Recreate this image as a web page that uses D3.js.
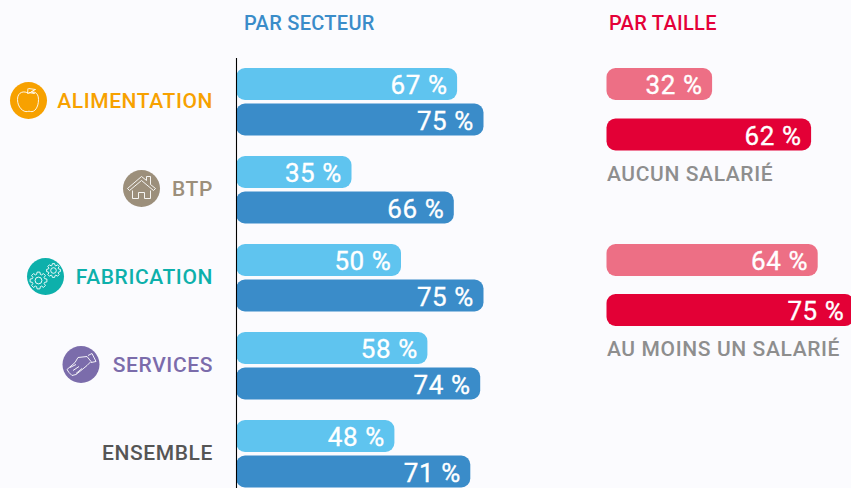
<!DOCTYPE html>
<html lang="fr">
<head>
<meta charset="UTF-8">
<title>Par secteur, par taille</title>
<script src="https://d3js.org/d3.v7.min.js"></script>
<style>
    html, body { margin: 0; padding: 0; background: #fbfbfe; overflow: hidden; }
    text { font-family: Roboto, sans-serif; font-weight: 500; }
    text.val { font-weight: 400; }
</style>
</head>
<body>
<script>
    const sectors = ["ALIMENTATION", "BTP", "FABRICATION", "SERVICES", "ENSEMBLE"];
    const sectorLight = [67, 35, 50, 58, 48];
    const sectorDark = [75, 66, 75, 74, 71];
    const sectorColors = ["#f7a100", "#9c8f7b", "#0db0ab", "#7b6cab", "#555555"];
    const sizes = ["AUCUN SALARIÉ", "AU MOINS UN SALARIÉ"];
    const sizeLight = [32, 64];
    const sizeDark = [62, 75];

    const WIDTH = 851, HEIGHT = 488;
    const svg = d3.select("body").append("svg").attr("width", WIDTH).attr("height", HEIGHT).style("display", "block");
    svg.append("rect").attr("width", WIDTH).attr("height", HEIGHT).attr("fill", "#fbfbfe");

    const BAR_H = 32;
    // 3.3 px per percentage point on both panels
    const xLeft = d3.scaleLinear().domain([0, 75]).range([236, 483.5]);
    const xRight = d3.scaleLinear().domain([0, 75]).range([606.5, 854]);
    const yLight = d3.scalePoint().domain(sectors).range([68, 420]);
    const yDark = d3.scalePoint().domain(sectors).range([103.5, 455.5]);
    const ySizeLight = d3.scalePoint().domain(sizes).range([68, 244]);
    const ySizeDark = d3.scalePoint().domain(sizes).range([118.5, 294]);

    function bars(cats, values, x, y, color) {
        const g = svg.append("g");
        cats.forEach((c, i) => {
            g.append("rect")
                .attr("x", x(0)).attr("y", y(c))
                .attr("width", x(values[i]) - x(0)).attr("height", BAR_H)
                .attr("rx", 9).attr("fill", color);
            g.append("text")
                .attr("class", "val")
                .text(values[i] + " %")
                .attr("x", x(values[i]) - 9.5).attr("y", y(c) + 26)
                .attr("text-anchor", "end")
                .attr("font-size", 26).attr("letter-spacing", 0.6)
                .attr("fill", "white").attr("stroke", "white").attr("stroke-width", 0.35);
        });
    }
    bars(sectors, sectorLight, xLeft, yLight, "#5fc4ef");
    bars(sectors, sectorDark, xLeft, yDark, "#3a8cc9");
    bars(sizes, sizeLight, xRight, ySizeLight, "#ed6f85");
    bars(sizes, sizeDark, xRight, ySizeDark, "#e30036");

    svg.append("line").attr("x1", 236.5).attr("x2", 236.5).attr("y1", 58).attr("y2", HEIGHT)
        .attr("stroke", "#000").attr("stroke-width", 1.1);

    svg.append("text").text("PAR SECTEUR").attr("x", 244).attr("y", 30)
        .attr("font-size", 20).attr("letter-spacing", 0.3).attr("fill", "#3a8cc9");
    svg.append("text").text("PAR TAILLE").attr("x", 609).attr("y", 30)
        .attr("font-size", 20).attr("letter-spacing", 0.3).attr("fill", "#e40038");

    sectors.forEach((s, i) => {
        svg.append("text").text(s)
            .attr("x", 213).attr("y", yLight(s) + 39.6)
            .attr("text-anchor", "end")
            .attr("font-size", 21).attr("letter-spacing", 0.6)
            .attr("fill", sectorColors[i]);
    });
    sizes.forEach(s => {
        svg.append("text").text(s)
            .attr("x", 607).attr("y", ySizeDark(s) + 62)
            .attr("font-size", 21).attr("letter-spacing", 0.62)
            .attr("fill", "#8e8e8e");
    });

    // icons
    function icon(cx, cy, color, paths) {
        const g = svg.append("g").attr("transform", `translate(${cx},${cy})`);
        g.append("circle").attr("r", 18.5).attr("fill", color);
        paths.forEach(d => g.append("path").attr("d", d)
            .attr("fill", "none").attr("stroke", "white").attr("stroke-width", 0.9));
        return g;
    }
    icon(28.5, 100.5, sectorColors[0], [
        "M0,-7 C-4,-10 -11,-9 -11,-1 C-11,7 -5,12 -1,11 C0,10.6 1,10.6 2,11 C6,12 10,7 10,-1 C10,-9 4,-10 0,-7 Z",
        "M-1,-7 L-0.5,-12", "M0,-12 L7,-11 L3,-9 L6,-7 L0,-8"
    ]);
    icon(141.5, 188.5, sectorColors[1], [
        "M-14,0 L0,-12 L5,-8 L5,-12 L9,-12 L9,-4 L14,0 L12,2 L0,-8 L-12,2 Z",
        "M-9,2 L-9,10 L-3,10 L-3,4 L3,4 L3,10 L9,10 L9,2"
    ]);
    const gear = (x, y, r) => {
        let d = "";
        for (let k = 0; k < 8; k++) {
            const a = k * Math.PI / 4;
            const p = (rr, da) => `${(x + rr * Math.cos(a + da)).toFixed(1)},${(y + rr * Math.sin(a + da)).toFixed(1)}`;
            d += (k ? "L" : "M") + p(r * 0.75, -0.3) + "L" + p(r, -0.16) + "L" + p(r, 0.16) + "L" + p(r * 0.75, 0.3);
        }
        d += `Z M${x + r * 0.4},${y} A${r * 0.4},${r * 0.4} 0 1 0 ${x - r * 0.4},${y} A${r * 0.4},${r * 0.4} 0 1 0 ${x + r * 0.4},${y}`;
        return d;
    };
    icon(45.5, 276.5, sectorColors[2], [gear(-7, 4, 8.5), gear(8, -6, 7)]);
    icon(81, 364.5, sectorColors[3], [
        "M-12,8 L-14,5 L-6,-2 L-3,-7 L6,-8 L10,-3 L6,1 L0,6 L-5,10 L-9,11 Z",
        "M7,-9 L11,-11 L15,-3 L10,-2", "M-11,3 L-5,0", "M-8,6 L-2,2", "M-5,9 L1,4"
    ]);
</script>
</body>
</html>
